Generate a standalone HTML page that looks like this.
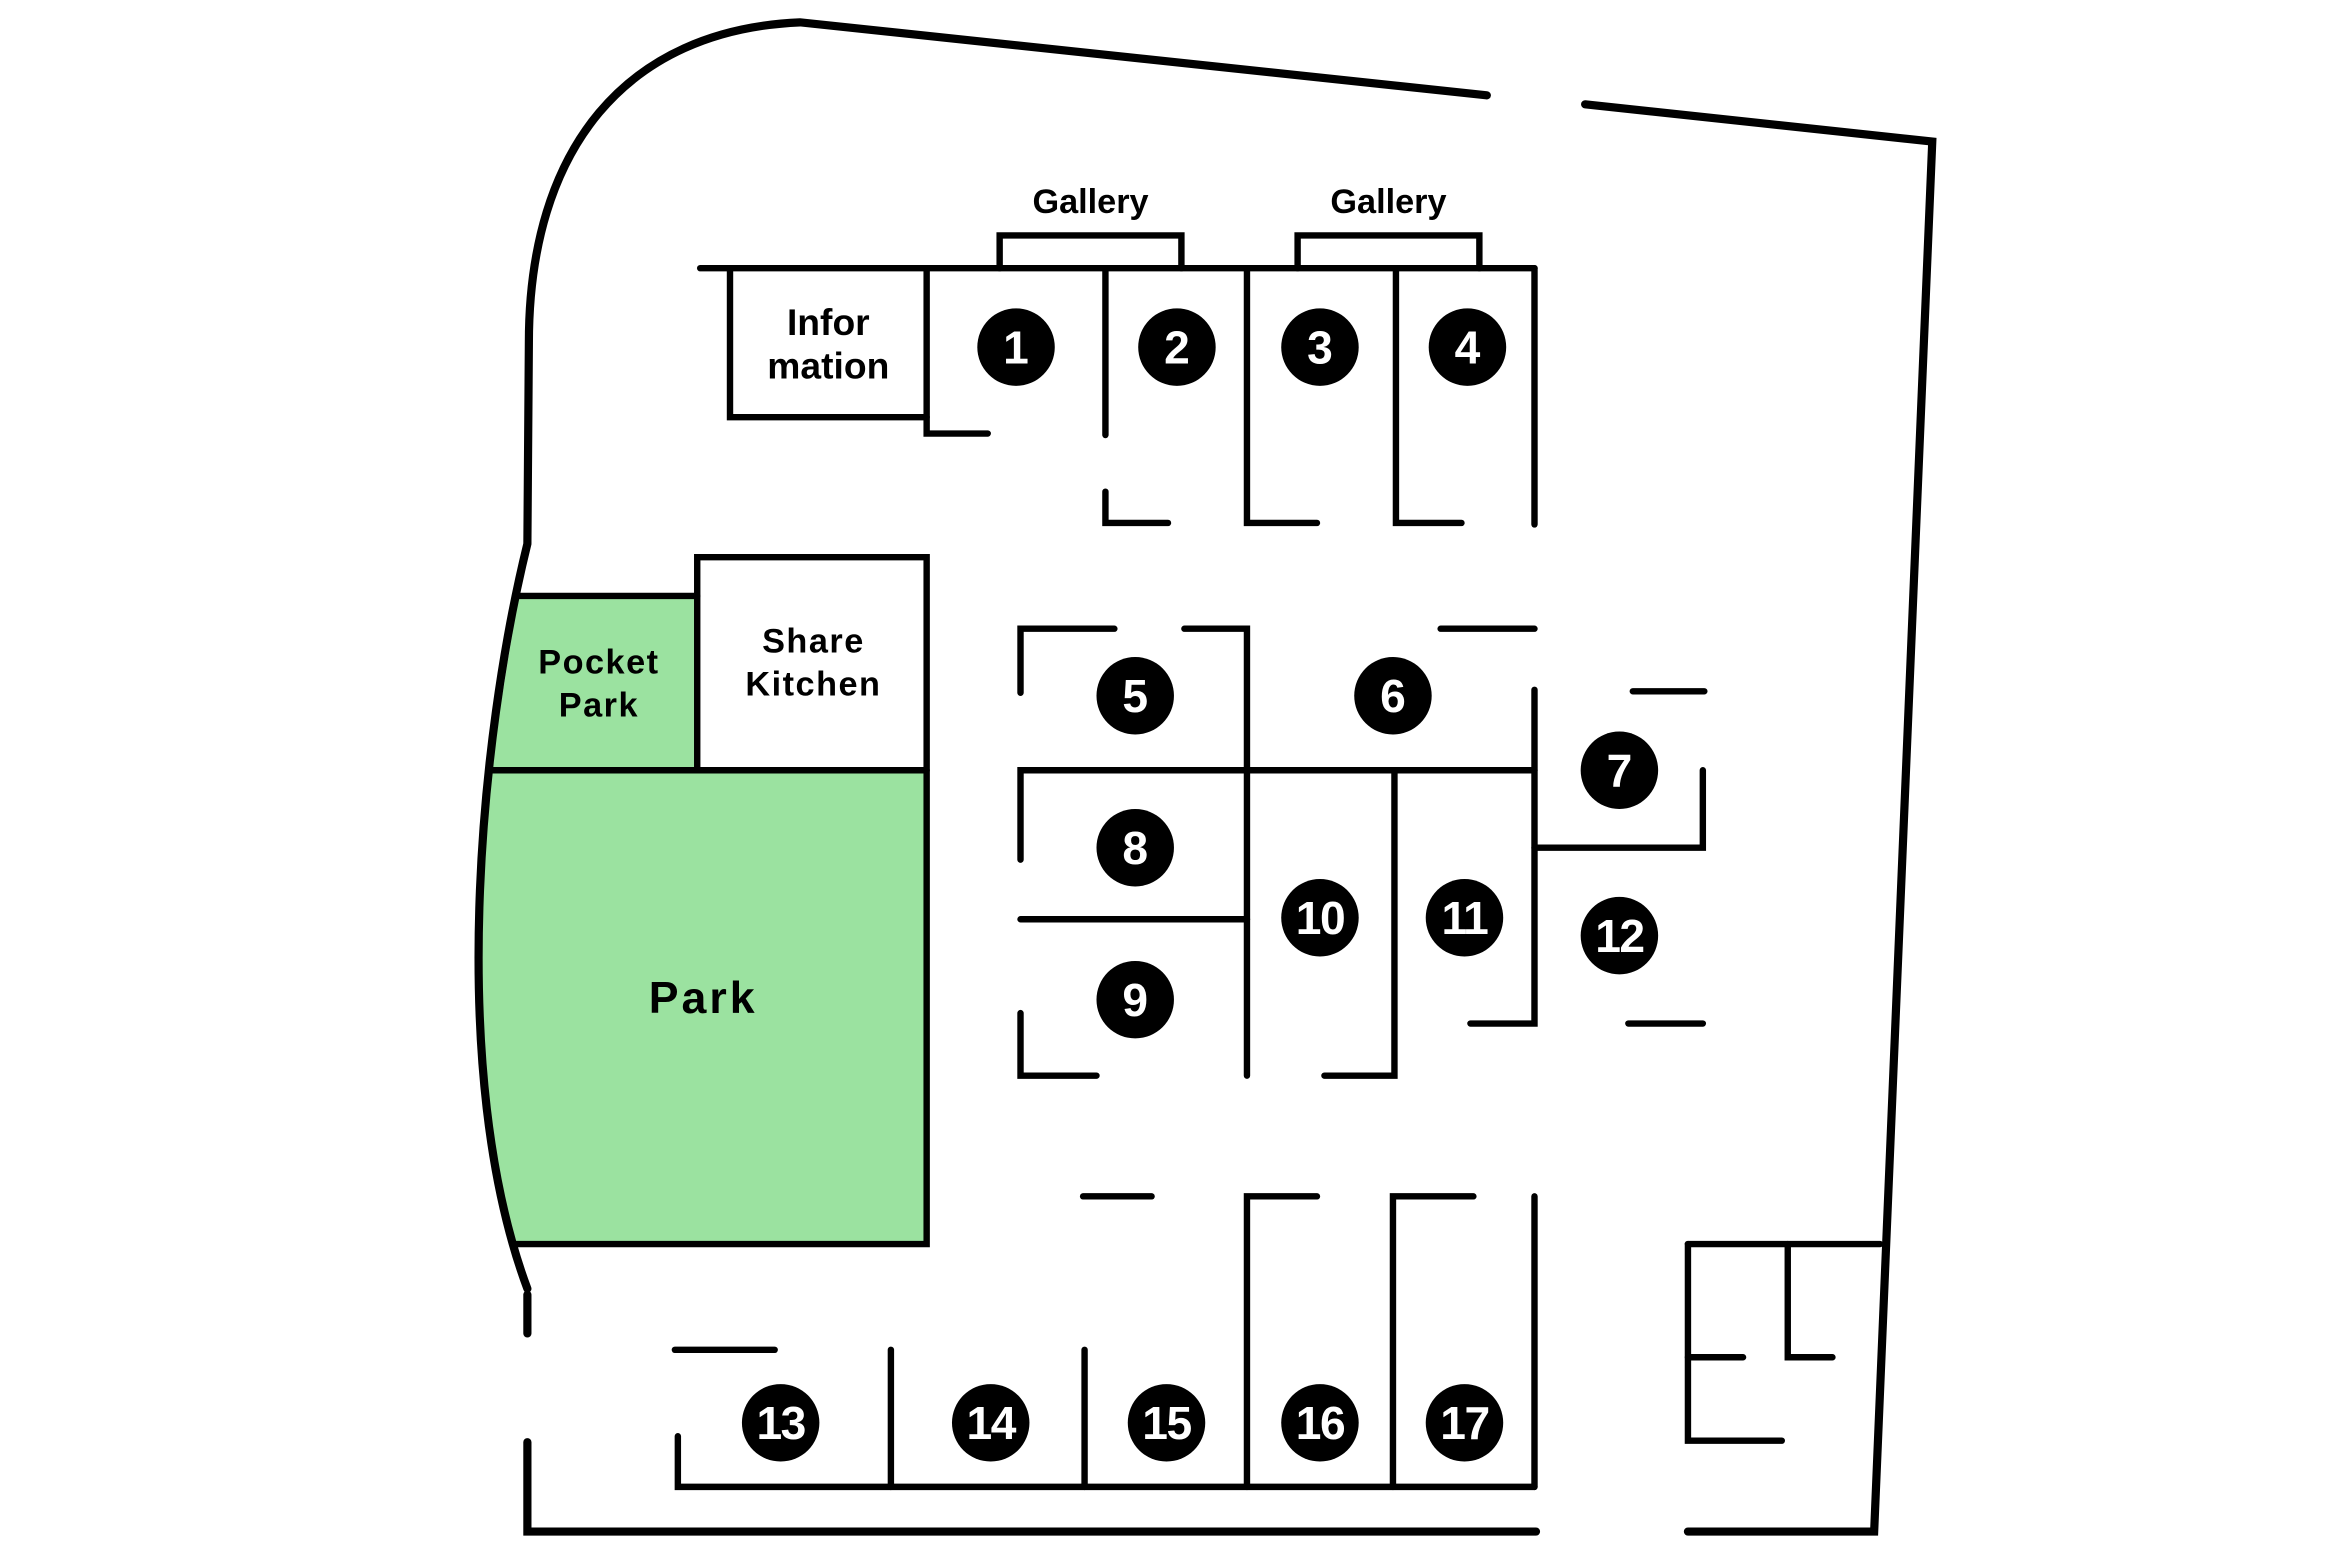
<!DOCTYPE html>
<html><head><meta charset="utf-8"><style>
html,body{margin:0;padding:0;background:#fff;}
svg{display:block;}
text{font-family:"Liberation Sans",sans-serif;font-weight:bold;text-anchor:middle;}
</style></head><body>
<svg width="2336" height="1556" viewBox="0 0 1568 1044.4" preserveAspectRatio="none" xmlns="http://www.w3.org/2000/svg">
<rect width="1568" height="1045" fill="#fff"/>
<path d="M348,400 L468,400 L468,517 L329,517 Z" fill="#9be2a0"/>
<path d="M329,517 L622,517 L622,835 L345,835 C322,760 312,640 329,517 Z" fill="#9be2a0"/>
<g fill="none" stroke="#000" stroke-width="4.3" stroke-linecap="round" stroke-linejoin="miter">
<path d="M998,64 L537,15 C420,20 355,100 355,230 L354,365 C322,495 300,720 354,865" stroke-width="5.5"/>
<path d="M354,869 L354,895" stroke-width="5.5"/>
<path d="M354,968 L354,1028 L1031,1028" stroke-width="5.5"/>
<path d="M1133,1028 L1258,1028 L1297,95 L1064,70" stroke-width="5.5"/>
<path d="M348,400 L468,400"/>
<path d="M468,517 L468,374 L622,374 L622,835 L345,835"/>
<path d="M329,517 L622,517"/>
<path d="M470,180 L1030,180"/>
<path d="M490,180 L490,280 L622,280"/>
<path d="M622,180 L622,291 L663,291"/>
<path d="M671,180 L671,158 L793,158 L793,180"/>
<path d="M871,180 L871,158 L993,158 L993,180"/>
<path d="M742,180 L742,292"/>
<path d="M742,330 L742,351 L784,351"/>
<path d="M837,180 L837,351 L884,351"/>
<path d="M937,180 L937,351 L981,351"/>
<path d="M1030,180 L1030,352"/>
<path d="M685,465 L685,422 L748,422"/>
<path d="M795,422 L837,422 L837,722"/>
<path d="M967,422 L1030,422"/>
<path d="M685,577 L685,517 L1030,517"/>
<path d="M685,617 L837,617"/>
<path d="M685,680 L685,722 L736,722"/>
<path d="M936,517 L936,722 L889,722"/>
<path d="M1030,463 L1030,687 L987,687"/>
<path d="M1030,569 L1143,569 L1143,517"/>
<path d="M1096,464 L1144,464"/>
<path d="M1093,687 L1143,687"/>
<path d="M727,803 L773,803"/>
<path d="M837,998 L837,803 L884,803"/>
<path d="M935,998 L935,803 L989,803"/>
<path d="M1030,803 L1030,998"/>
<path d="M455,964 L455,998 L1030,998"/>
<path d="M598,906 L598,998"/>
<path d="M728,906 L728,998"/>
<path d="M453,906 L520,906"/>
<path d="M1133,835 L1262,835"/>
<path d="M1133,835 L1133,967 L1196,967"/>
<path d="M1133,911 L1170,911"/>
<path d="M1200,835 L1200,911 L1230,911"/>
</g>
<g fill="#000">
<text x="732" y="143" font-size="23">Gallery</text>
<text x="932" y="143" font-size="23">Gallery</text>
<text x="556" y="225" font-size="25">Infor</text>
<text x="556" y="254" font-size="25">mation</text>
<text x="402" y="452" font-size="23" letter-spacing="1">Pocket</text>
<text x="402" y="481" font-size="23" letter-spacing="1">Park</text>
<text x="546" y="438" font-size="23" letter-spacing="1">Share</text>
<text x="546" y="467" font-size="23" letter-spacing="1">Kitchen</text>
<text x="472" y="680" font-size="30" letter-spacing="2">Park</text>
</g>
<g>
<circle cx="682" cy="233" r="26"/><circle cx="790" cy="233" r="26"/><circle cx="886" cy="233" r="26"/><circle cx="985" cy="233" r="26"/>
<circle cx="762" cy="467" r="26"/><circle cx="935" cy="467" r="26"/><circle cx="1087" cy="517" r="26"/>
<circle cx="762" cy="569" r="26"/><circle cx="762" cy="671" r="26"/><circle cx="886" cy="616" r="26"/><circle cx="983" cy="616" r="26"/><circle cx="1087" cy="628" r="26"/>
<circle cx="524" cy="955" r="26"/><circle cx="665" cy="955" r="26"/><circle cx="783" cy="955" r="26"/><circle cx="886" cy="955" r="26"/><circle cx="983" cy="955" r="26"/>
</g>
<g fill="#fff" font-size="31">
<text x="682" y="244">1</text><text x="790" y="244">2</text><text x="886" y="244">3</text><text x="985" y="244">4</text>
<text x="762" y="478">5</text><text x="935" y="478">6</text><text x="1087" y="528">7</text>
<text x="762" y="580">8</text><text x="762" y="682">9</text><text x="886" y="627" letter-spacing="-1">10</text><text x="983" y="627" letter-spacing="-1">11</text><text x="1087" y="639" letter-spacing="-1">12</text>
<text x="524" y="966" letter-spacing="-1">13</text><text x="665" y="966" letter-spacing="-1">14</text><text x="783" y="966" letter-spacing="-1">15</text><text x="886" y="966" letter-spacing="-1">16</text><text x="983" y="966" letter-spacing="-1">17</text>
</g>
</svg>
</body></html>
